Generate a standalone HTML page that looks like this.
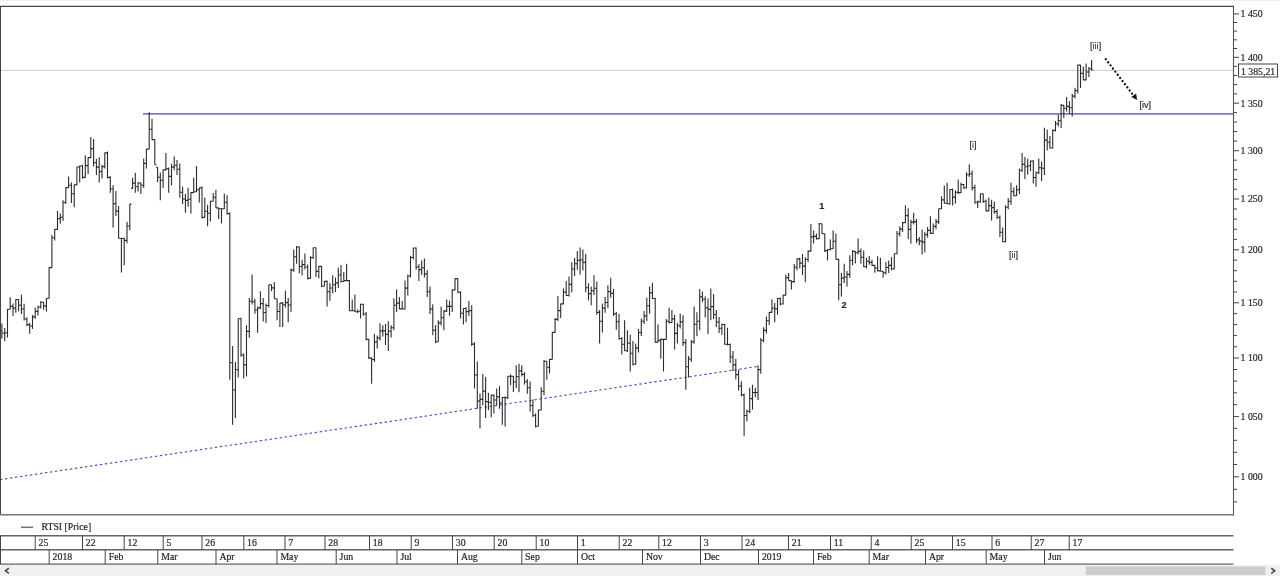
<!DOCTYPE html>
<html><head><meta charset="utf-8"><title>RTSI</title>
<style>
html,body{margin:0;padding:0;background:#fff;}
body{width:1280px;height:576px;overflow:hidden;position:relative;font-family:"Liberation Serif",serif;}
svg{position:absolute;left:0;top:0;will-change:transform;opacity:0.999;}
text{font-family:"Liberation Serif",serif;font-size:11px;fill:#262626;stroke:#262626;stroke-width:0.22px;}
.ss text{font-family:"Liberation Sans",sans-serif;font-size:9.1px;fill:#2c2c2c;stroke:#2c2c2c;stroke-width:0.2px;}
</style></head><body>
<svg width="1280" height="576" viewBox="0 0 1280 576">
<rect x="0" y="0" width="1280" height="1.2" fill="#f0f0f0"/>
<rect x="0" y="565.3" width="1280" height="10.7" fill="#f0f0f0"/>
<rect x="1085.8" y="566.4" width="179.6" height="8.4" fill="#cdcdcd"/>
<path d="M8.9 568.2l-3.4 2.6 3.4 2.6" fill="none" stroke="#4a4a4a" stroke-width="1.6"/>
<path d="M1271.3 568.2l3.4 2.6-3.4 2.6" fill="none" stroke="#4a4a4a" stroke-width="1.6"/>
<!-- reference lines -->
<path d="M1 70.4H1233" stroke="#cbcbcb" stroke-width="1" fill="none"/>
<path d="M143 113.9H1233" stroke="#7a7acd" stroke-width="1.75" fill="none"/>
<path d="M0 479.6L759 366.3" stroke="#4c4cbf" stroke-width="1.15" stroke-dasharray="2.4 2.65" fill="none"/>
<!-- bars -->
<path d="M1.9 323.4V338.4M0.3 330.9h1.6M1.9 333.2h1.6M4.7 328.1V341.3M3.1 333.2h1.6M4.7 332.8h1.6M7.5 309.0V337.5M5.9 332.8h1.6M7.5 309.2h1.6M10.2 297.2V309.4M8.6 309.2h1.6M10.2 306.4h1.6M13.0 303.4V315.9M11.4 306.4h1.6M13.0 308.1h1.6M15.8 299.1V312.8M14.2 308.1h1.6M15.8 299.5h1.6M18.6 299.1V311.3M17.0 299.5h1.6M18.6 305.2h1.6M21.4 294.8V314.1M19.8 305.2h1.6M21.4 309.0h1.6M24.1 303.8V320.6M22.5 309.0h1.6M24.1 319.0h1.6M26.9 317.3V326.3M25.3 319.0h1.6M26.9 324.6h1.6M29.7 322.9V333.8M28.1 324.6h1.6M29.7 326.0h1.6M32.5 315.0V329.1M30.9 326.0h1.6M32.5 316.9h1.6M35.2 307.5V318.8M33.6 316.9h1.6M35.2 311.4h1.6M38.0 305.6V315.4M36.4 311.4h1.6M38.0 307.0h1.6M40.8 300.9V308.4M39.2 307.0h1.6M40.8 302.3h1.6M43.6 301.9V309.8M42.0 302.3h1.6M43.6 305.9h1.6M46.4 298.1V311.6M44.8 305.9h1.6M46.4 298.3h1.6M49.1 267.3V298.5M47.5 298.3h1.6M49.1 267.6h1.6M51.9 235.0V267.8M50.3 267.6h1.6M51.9 237.8h1.6M54.7 229.0V240.6M53.1 237.8h1.6M54.7 229.4h1.6M57.5 211.0V229.8M55.9 229.4h1.6M57.5 218.6h1.6M60.3 213.4V223.8M58.7 218.6h1.6M60.3 217.2h1.6M63.0 200.3V220.9M61.4 217.2h1.6M63.0 202.2h1.6M65.8 187.2V204.1M64.2 202.2h1.6M65.8 187.6h1.6M68.6 176.5V188.1M67.0 187.6h1.6M68.6 185.3h1.6M71.4 182.5V202.9M69.8 185.3h1.6M71.4 193.7h1.6M74.2 184.4V207.3M72.6 193.7h1.6M74.2 184.9h1.6M76.9 166.6V185.3M75.3 184.9h1.6M76.9 167.0h1.6M79.7 165.6V182.5M78.1 167.0h1.6M79.7 166.0h1.6M82.5 164.7V178.8M80.9 166.0h1.6M82.5 177.4h1.6M85.3 155.3V177.8M83.7 177.4h1.6M85.3 165.6h1.6M88.1 157.2V174.1M86.5 165.6h1.6M88.1 157.6h1.6M90.8 137.1V158.1M89.2 157.6h1.6M90.8 148.6h1.6M93.6 139.0V166.6M92.0 148.6h1.6M93.6 162.8h1.6M96.4 159.1V175.0M94.8 162.8h1.6M96.4 167.1h1.6M99.2 157.2V182.5M97.6 167.1h1.6M99.2 171.6h1.6M102.0 164.7V178.6M100.4 171.6h1.6M102.0 166.6h1.6M104.8 152.5V168.4M103.2 166.6h1.6M104.8 152.9h1.6M107.5 151.6V178.6M105.9 152.9h1.6M107.5 177.4h1.6M110.3 176.3V192.7M108.7 177.4h1.6M110.3 189.0h1.6M113.1 185.3V227.6M111.5 189.0h1.6M113.1 203.6h1.6M115.9 191.0V216.1M114.3 203.6h1.6M115.9 211.1h1.6M118.6 206.0V238.6M117.0 211.1h1.6M118.6 238.3h1.6M121.4 238.1V272.6M119.8 238.3h1.6M121.4 238.5h1.6M124.2 237.5V265.3M122.6 238.5h1.6M124.2 240.4h1.6M127.0 221.7V243.3M125.4 240.4h1.6M127.0 226.0h1.6M129.8 204.1V230.3M128.2 226.0h1.6M129.8 204.1h1.6M132.6 177.8V188.4M131.0 188.4h1.6M132.6 183.1h1.6M135.3 172.8V192.8M133.7 183.1h1.6M135.3 186.7h1.6M138.1 181.9V191.4M136.5 186.7h1.6M138.1 183.0h1.6M140.9 182.6V193.9M139.3 183.0h1.6M140.9 185.3h1.6M143.7 158.5V188.0M142.1 185.3h1.6M143.7 163.4h1.6M146.4 149.1V168.4M144.8 163.4h1.6M146.4 149.1h1.6M149.2 112.2V149.1M147.6 149.1h1.6M149.2 129.3h1.6M152.0 118.8V139.8M150.4 129.3h1.6M152.0 139.6h1.6M154.8 139.4V164.7M153.2 139.6h1.6M154.8 164.7h1.6M157.6 167.3V182.2M156.0 167.3h1.6M157.6 177.3h1.6M160.3 172.5V200.3M158.8 177.3h1.6M160.3 180.2h1.6M163.1 169.4V188.0M161.5 180.2h1.6M163.1 169.9h1.6M165.9 152.9V170.3M164.3 169.9h1.6M165.9 168.9h1.6M168.7 167.5V192.8M167.1 168.9h1.6M168.7 176.4h1.6M171.5 163.8V185.3M169.9 176.4h1.6M171.5 167.1h1.6M174.2 156.3V170.3M172.7 167.1h1.6M174.2 165.2h1.6M177.0 160.0V175.1M175.4 165.2h1.6M177.0 169.2h1.6M179.8 163.4V197.8M178.2 169.2h1.6M179.8 192.3h1.6M182.6 186.8V203.9M181.0 192.3h1.6M182.6 199.0h1.6M185.4 194.1V212.8M183.8 199.0h1.6M185.4 200.4h1.6M188.1 187.8V206.7M186.5 200.4h1.6M188.1 199.3h1.6M190.9 192.0V213.5M189.3 199.3h1.6M190.9 192.6h1.6M193.7 177.8V193.1M192.1 192.6h1.6M193.7 191.8h1.6M196.5 166.0V192.2M194.9 191.8h1.6M196.5 189.8h1.6M199.3 187.5V202.5M197.7 189.8h1.6M199.3 187.9h1.6M202.0 186.4V218.4M200.4 187.9h1.6M202.0 217.4h1.6M204.8 197.6V217.8M203.2 217.4h1.6M204.8 211.3h1.6M207.6 204.8V226.3M206.0 211.3h1.6M207.6 213.2h1.6M210.4 201.1V221.6M208.8 213.2h1.6M210.4 201.3h1.6M213.2 192.9V201.5M211.6 201.3h1.6M213.2 197.2h1.6M215.9 189.7V208.1M214.3 197.2h1.6M215.9 207.9h1.6M218.7 207.7V219.1M217.1 207.9h1.6M218.7 208.8h1.6M221.5 208.4V223.4M219.9 208.8h1.6M221.5 208.7h1.6M224.3 193.6V209.0M222.7 208.7h1.6M224.3 202.2h1.6M227.1 195.3V214.6M225.5 202.2h1.6M227.1 213.6h1.6M229.8 212.6V379.7M228.2 213.6h1.6M229.8 362.8h1.6M232.6 345.9V424.7M231.0 362.8h1.6M232.6 390.0h1.6M235.4 361.9V418.1M233.8 390.0h1.6M235.4 369.7h1.6M238.2 318.4V377.5M236.6 369.7h1.6M238.2 318.8h1.6M241.0 317.7V356.7M239.4 318.8h1.6M241.0 355.0h1.6M243.7 353.4V378.6M242.1 355.0h1.6M243.7 364.9h1.6M246.5 325.2V376.5M244.9 364.9h1.6M246.5 331.4h1.6M249.3 297.9V337.7M247.7 331.4h1.6M249.3 301.2h1.6M252.1 274.5V304.6M250.5 301.2h1.6M252.1 301.7h1.6M254.9 298.8V313.7M253.3 301.7h1.6M254.9 310.0h1.6M257.6 306.4V332.7M256.0 310.0h1.6M257.6 307.9h1.6M260.4 291.3V309.3M258.8 307.9h1.6M260.4 303.6h1.6M263.2 297.9V321.4M261.6 303.6h1.6M263.2 312.5h1.6M266.0 303.6V323.0M264.4 312.5h1.6M266.0 305.5h1.6M268.8 284.4V307.4M267.2 305.5h1.6M268.8 284.8h1.6M271.5 284.4V291.3M269.9 284.8h1.6M271.5 287.9h1.6M274.3 281.9V298.8M272.7 287.9h1.6M274.3 298.8h1.6M277.1 298.8V320.3M275.5 298.8h1.6M277.1 311.5h1.6M279.9 302.7V327.1M278.3 311.5h1.6M279.9 303.1h1.6M282.7 302.1V327.1M281.1 303.1h1.6M282.7 304.8h1.6M285.4 290.8V307.4M283.8 304.8h1.6M285.4 302.6h1.6M288.2 297.9V322.2M286.6 302.6h1.6M288.2 305.0h1.6M291.0 268.6V312.1M289.4 305.0h1.6M291.0 270.1h1.6M293.8 249.6V271.7M292.2 270.1h1.6M293.8 256.7h1.6M296.6 246.1V263.8M295.0 256.7h1.6M296.6 247.0h1.6M299.3 246.6V273.3M297.7 247.0h1.6M299.3 266.5h1.6M302.1 259.7V275.2M300.5 266.5h1.6M302.1 264.6h1.6M304.9 253.6V269.6M303.3 264.6h1.6M304.9 267.0h1.6M307.7 264.4V279.5M306.1 267.0h1.6M307.7 278.4h1.6M310.5 256.3V278.8M308.9 278.4h1.6M310.5 257.6h1.6M313.2 247.4V258.8M311.6 257.6h1.6M313.2 247.8h1.6M316.0 247.4V276.9M314.4 247.8h1.6M316.0 271.4h1.6M318.8 265.8V278.2M317.2 271.4h1.6M318.8 266.4h1.6M321.6 266.0V287.0M320.0 266.4h1.6M321.6 286.2h1.6M324.4 281.0V286.6M322.8 286.2h1.6M324.4 281.4h1.6M327.1 280.6V306.4M325.5 281.4h1.6M327.1 291.8h1.6M329.9 282.9V300.7M328.3 291.8h1.6M329.9 288.0h1.6M332.7 275.2V293.2M331.1 288.0h1.6M332.7 284.8h1.6M335.5 277.6V291.9M333.9 284.8h1.6M335.5 282.9h1.6M338.3 267.5V288.1M336.7 282.9h1.6M338.3 275.0h1.6M341.0 265.1V282.5M339.4 275.0h1.6M341.0 281.5h1.6M343.8 272.0V281.9M342.2 281.5h1.6M343.8 280.6h1.6M346.6 263.8V281.0M345.0 280.6h1.6M346.6 280.6h1.6M349.4 280.1V311.1M347.8 280.6h1.6M349.4 310.7h1.6M352.2 299.4V311.1M350.6 310.7h1.6M352.2 310.7h1.6M354.9 294.5V312.1M353.3 310.7h1.6M354.9 311.7h1.6M357.7 309.5V313.0M356.1 311.7h1.6M357.7 311.2h1.6M360.5 303.8V318.4M358.9 311.2h1.6M360.5 304.2h1.6M363.3 303.8V315.8M361.7 304.2h1.6M363.3 314.0h1.6M366.1 312.1V340.2M364.5 314.0h1.6M366.1 339.4h1.6M368.8 338.7V359.1M367.2 339.4h1.6M368.8 358.1h1.6M371.6 357.2V383.7M370.0 358.1h1.6M371.6 359.5h1.6M374.4 333.7V361.9M372.8 359.5h1.6M374.4 341.9h1.6M377.2 335.4V348.4M375.6 341.9h1.6M377.2 337.9h1.6M380.0 323.3V340.5M378.4 337.9h1.6M380.0 330.9h1.6M382.8 325.2V336.5M381.1 330.9h1.6M382.8 330.9h1.6M385.5 323.9V345.0M383.9 330.9h1.6M385.5 334.4h1.6M388.3 321.2V351.0M386.7 334.4h1.6M388.3 331.3h1.6M391.1 325.2V337.4M389.5 331.3h1.6M391.1 327.8h1.6M393.9 298.3V330.3M392.3 327.8h1.6M393.9 305.2h1.6M396.6 289.4V312.1M395.0 305.2h1.6M396.6 303.1h1.6M399.4 296.9V309.3M397.8 303.1h1.6M399.4 308.9h1.6M402.2 301.1V309.4M400.6 308.9h1.6M402.2 309.0h1.6M405.0 280.6V309.6M403.4 309.0h1.6M405.0 288.1h1.6M407.8 274.4V295.6M406.2 288.1h1.6M407.8 276.0h1.6M410.5 255.7V277.6M408.9 276.0h1.6M410.5 257.5h1.6M413.3 247.6V259.4M411.7 257.5h1.6M413.3 248.0h1.6M416.1 247.6V269.8M414.5 248.0h1.6M416.1 267.0h1.6M418.9 264.1V281.0M417.3 267.0h1.6M418.9 269.6h1.6M421.7 260.4V275.0M420.1 269.6h1.6M421.7 267.7h1.6M424.4 258.5V277.6M422.8 267.7h1.6M424.4 273.9h1.6M427.2 270.1V296.9M425.6 273.9h1.6M427.2 291.8h1.6M430.0 286.6V313.9M428.4 291.8h1.6M430.0 309.1h1.6M432.8 304.3V335.2M431.2 309.1h1.6M432.8 330.2h1.6M435.6 325.2V343.3M434.0 330.2h1.6M435.6 341.7h1.6M438.3 320.3V342.1M436.7 341.7h1.6M438.3 322.9h1.6M441.1 306.8V325.4M439.5 322.9h1.6M441.1 317.8h1.6M443.9 310.1V330.3M442.3 317.8h1.6M443.9 311.1h1.6M446.7 299.4V312.0M445.1 311.1h1.6M446.7 306.4h1.6M449.5 300.8V315.8M447.9 306.4h1.6M449.5 306.4h1.6M452.2 289.4V312.0M450.6 306.4h1.6M452.2 289.9h1.6M455.0 278.2V290.3M453.4 289.9h1.6M455.0 278.6h1.6M457.8 278.2V293.3M456.2 278.6h1.6M457.8 292.3h1.6M460.6 291.3V318.4M459.0 292.3h1.6M460.6 313.2h1.6M463.4 308.1V324.6M461.8 313.2h1.6M463.4 308.5h1.6M466.1 307.2V322.2M464.5 308.5h1.6M466.1 311.6h1.6M468.9 301.0V316.0M467.3 311.6h1.6M468.9 310.6h1.6M471.7 305.3V346.0M470.1 310.6h1.6M471.7 344.1h1.6M474.5 342.2V388.5M472.9 344.1h1.6M474.5 375.0h1.6M477.3 361.5V408.8M475.7 375.0h1.6M477.3 401.1h1.6M480.0 393.4V428.4M478.4 401.1h1.6M480.0 399.4h1.6M482.8 374.1V405.4M481.2 399.4h1.6M482.8 391.1h1.6M485.6 376.9V418.1M484.0 391.1h1.6M485.6 401.6h1.6M488.4 392.8V410.3M486.8 401.6h1.6M488.4 402.5h1.6M491.2 394.7V417.2M489.6 402.5h1.6M491.2 395.1h1.6M493.9 394.7V413.4M492.3 395.1h1.6M493.9 400.0h1.6M496.7 388.5V405.4M495.1 400.0h1.6M496.7 396.9h1.6M499.5 386.3V408.8M497.9 396.9h1.6M499.5 403.0h1.6M502.3 397.1V424.7M500.7 403.0h1.6M502.3 397.5h1.6M505.1 396.6V426.6M503.5 397.5h1.6M505.1 397.8h1.6M507.8 375.9V399.0M506.2 397.8h1.6M507.8 376.3h1.6M510.6 374.6V385.3M509.0 376.3h1.6M510.6 376.3h1.6M513.4 375.9V391.9M511.8 376.3h1.6M513.4 382.0h1.6M516.2 365.3V388.1M514.6 382.0h1.6M516.2 376.7h1.6M519.0 363.8V392.3M517.4 376.7h1.6M519.0 370.9h1.6M521.8 365.3V376.5M520.1 370.9h1.6M521.8 374.4h1.6M524.5 372.2V384.4M522.9 374.4h1.6M524.5 381.8h1.6M527.3 379.1V393.8M525.7 381.8h1.6M527.3 387.7h1.6M530.1 381.6V411.6M528.5 387.7h1.6M530.1 405.5h1.6M532.9 399.4V417.2M531.3 405.5h1.6M532.9 415.3h1.6M535.6 413.4V427.5M534.0 415.3h1.6M535.6 426.2h1.6M538.4 409.7V426.6M536.8 426.2h1.6M538.4 410.0h1.6M541.2 387.2V410.3M539.6 410.0h1.6M541.2 391.2h1.6M544.0 360.0V395.3M542.4 391.2h1.6M544.0 361.3h1.6M546.8 360.9V379.7M545.2 361.3h1.6M546.8 367.2h1.6M549.5 359.1V373.5M547.9 367.2h1.6M549.5 359.4h1.6M552.3 332.2V359.6M550.7 359.4h1.6M552.3 332.4h1.6M555.1 317.9V332.7M553.5 332.4h1.6M555.1 319.4h1.6M557.9 295.9V320.9M556.3 319.4h1.6M557.9 310.6h1.6M560.7 303.4V317.9M559.1 310.6h1.6M560.7 303.9h1.6M563.4 288.4V304.4M561.8 303.9h1.6M563.4 292.1h1.6M566.2 280.9V295.9M564.6 292.1h1.6M566.2 295.5h1.6M569.0 276.6V296.5M567.4 295.5h1.6M569.0 284.4h1.6M571.8 262.2V292.2M570.2 284.4h1.6M571.8 269.0h1.6M574.6 257.9V275.9M573.0 269.0h1.6M574.6 263.8h1.6M577.3 250.9V269.7M575.7 263.8h1.6M577.3 260.3h1.6M580.1 247.5V274.4M578.5 260.3h1.6M580.1 260.0h1.6M582.9 249.4V270.6M581.3 260.0h1.6M582.9 262.4h1.6M585.7 254.1V292.2M584.1 262.4h1.6M585.7 287.8h1.6M588.5 283.4V300.6M586.9 287.8h1.6M588.5 293.6h1.6M591.2 286.6V305.3M589.6 293.6h1.6M591.2 290.8h1.6M594.0 275.3V295.0M592.4 290.8h1.6M594.0 288.2h1.6M596.8 281.5V314.7M595.2 288.2h1.6M596.8 312.4h1.6M599.6 310.0V343.6M598.0 312.4h1.6M599.6 321.2h1.6M602.4 303.4V332.5M600.8 321.2h1.6M602.4 308.1h1.6M605.1 296.9V312.8M603.5 308.1h1.6M605.1 302.5h1.6M607.9 285.3V308.1M606.3 302.5h1.6M607.9 291.6h1.6M610.7 277.8V297.8M609.1 291.6h1.6M610.7 293.4h1.6M613.5 289.0V316.0M611.9 293.4h1.6M613.5 313.9h1.6M616.3 311.9V329.7M614.7 313.9h1.6M616.3 321.8h1.6M619.0 313.8V339.7M617.4 321.8h1.6M619.0 338.5h1.6M621.8 337.3V354.5M620.2 338.5h1.6M621.8 344.2h1.6M624.6 320.3V351.1M623.0 344.2h1.6M624.6 350.7h1.6M627.4 330.3V351.9M625.8 350.7h1.6M627.4 343.3h1.6M630.2 334.7V371.6M628.6 343.3h1.6M630.2 353.2h1.6M632.9 340.9V365.6M631.3 353.2h1.6M632.9 364.3h1.6M635.7 343.6V364.7M634.1 364.3h1.6M635.7 348.1h1.6M638.5 329.1V352.6M636.9 348.1h1.6M638.5 332.5h1.6M641.3 318.4V335.9M639.7 332.5h1.6M641.3 321.2h1.6M644.1 310.9V324.1M642.5 321.2h1.6M644.1 315.9h1.6M646.8 297.8V320.9M645.2 315.9h1.6M646.8 305.8h1.6M649.6 286.6V313.8M648.0 305.8h1.6M649.6 292.9h1.6M652.4 282.8V299.1M650.8 292.9h1.6M652.4 298.5h1.6M655.2 297.8V342.8M653.6 298.5h1.6M655.2 342.1h1.6M658.0 324.6V342.5M656.4 342.1h1.6M658.0 340.4h1.6M660.8 338.4V358.7M659.1 340.4h1.6M660.8 339.4h1.6M663.5 339.0V371.4M661.9 339.4h1.6M663.5 339.4h1.6M666.3 319.0V339.7M664.7 339.4h1.6M666.3 321.3h1.6M669.1 307.8V323.6M667.5 321.3h1.6M669.1 322.5h1.6M671.9 310.0V322.9M670.3 322.5h1.6M671.9 318.9h1.6M674.6 315.0V349.4M673.0 318.9h1.6M674.6 333.4h1.6M677.4 323.1V343.6M675.8 333.4h1.6M677.4 325.8h1.6M680.2 313.4V328.4M678.6 325.8h1.6M680.2 321.9h1.6M683.0 315.3V346.1M681.4 321.9h1.6M683.0 342.6h1.6M685.8 339.1V389.7M684.2 342.6h1.6M685.8 366.7h1.6M688.5 355.9V377.5M686.9 366.7h1.6M688.5 359.0h1.6M691.3 340.0V362.1M689.7 359.0h1.6M691.3 341.9h1.6M694.1 306.6V343.8M692.5 341.9h1.6M694.1 324.3h1.6M696.9 312.3V336.3M695.3 324.3h1.6M696.9 321.3h1.6M699.7 289.0V330.3M698.1 321.3h1.6M699.7 296.9h1.6M702.4 291.6V302.1M700.8 296.9h1.6M702.4 299.3h1.6M705.2 296.5V317.5M703.6 299.3h1.6M705.2 307.9h1.6M708.0 298.4V334.0M706.4 307.9h1.6M708.0 309.4h1.6M710.8 288.4V320.3M709.2 309.4h1.6M710.8 306.6h1.6M713.6 294.1V319.0M712.0 306.6h1.6M713.6 314.5h1.6M716.3 310.0V326.9M714.7 314.5h1.6M716.3 322.0h1.6M719.1 317.1V332.9M717.5 322.0h1.6M719.1 328.2h1.6M721.9 323.5V334.8M720.3 328.2h1.6M721.9 324.5h1.6M724.7 324.1V344.7M723.1 324.5h1.6M724.7 344.3h1.6M727.5 327.8V345.4M725.9 344.3h1.6M727.5 344.5h1.6M730.2 343.6V362.9M728.6 344.5h1.6M730.2 357.0h1.6M733.0 351.1V370.9M731.4 357.0h1.6M733.0 364.9h1.6M735.8 358.8V379.4M734.2 364.9h1.6M735.8 374.6h1.6M738.6 369.8V390.6M737.0 374.6h1.6M738.6 386.0h1.6M741.4 381.3V396.3M739.8 386.0h1.6M741.4 394.9h1.6M744.1 393.4V436.0M742.5 394.9h1.6M744.1 415.5h1.6M746.9 409.4V421.6M745.3 415.5h1.6M746.9 411.2h1.6M749.7 387.8V413.1M748.1 411.2h1.6M749.7 398.6h1.6M752.5 384.8V409.4M750.9 398.6h1.6M752.5 392.5h1.6M755.3 387.8V397.2M753.7 392.5h1.6M755.3 392.5h1.6M758.0 365.3V400.0M756.4 392.5h1.6M758.0 369.6h1.6M760.8 338.1V373.8M759.2 369.6h1.6M760.8 340.2h1.6M763.6 327.3V342.3M762.0 340.2h1.6M763.6 330.4h1.6M766.4 316.6V333.4M764.8 330.4h1.6M766.4 320.8h1.6M769.2 311.9V325.0M767.6 320.8h1.6M769.2 312.4h1.6M771.9 299.3V312.8M770.3 312.4h1.6M771.9 308.0h1.6M774.7 303.1V322.2M773.1 308.0h1.6M774.7 308.9h1.6M777.5 298.1V314.7M775.9 308.9h1.6M777.5 298.5h1.6M780.3 297.4V305.4M778.7 298.5h1.6M780.3 304.0h1.6M783.1 294.7V304.4M781.5 304.0h1.6M783.1 295.1h1.6M785.8 274.6V295.5M784.2 295.1h1.6M785.8 277.6h1.6M788.6 273.1V280.6M787.0 277.6h1.6M788.6 280.6h1.6M791.4 280.6V289.5M789.8 280.6h1.6M791.4 281.6h1.6M794.2 264.1V282.7M792.6 281.6h1.6M794.2 267.2h1.6M797.0 258.5V270.3M795.4 267.2h1.6M797.0 258.9h1.6M799.8 257.8V268.4M798.1 258.9h1.6M799.8 263.1h1.6M802.5 254.0V275.0M800.9 263.1h1.6M802.5 266.1h1.6M805.3 257.2V282.2M803.7 266.1h1.6M805.3 259.5h1.6M808.1 250.6V261.9M806.5 259.5h1.6M808.1 251.1h1.6M810.9 224.0V251.6M809.3 251.1h1.6M810.9 236.9h1.6M813.6 230.4V243.5M812.0 236.9h1.6M813.6 236.4h1.6M816.4 233.4V239.4M814.8 236.4h1.6M816.4 238.6h1.6M819.2 222.9V239.0M817.6 238.6h1.6M819.2 223.8h1.6M822.0 223.4V234.1M820.4 223.8h1.6M822.0 233.8h1.6M824.8 233.4V252.1M823.2 233.8h1.6M824.8 250.6h1.6M827.5 249.1V260.4M825.9 250.6h1.6M827.5 249.7h1.6M830.3 239.4V250.3M828.7 249.7h1.6M830.3 248.7h1.6M833.1 230.4V249.1M831.5 248.7h1.6M833.1 241.2h1.6M835.9 233.4V259.6M834.3 241.2h1.6M835.9 259.4h1.6M838.7 259.1V300.3M837.1 259.4h1.6M838.7 284.8h1.6M841.4 273.1V296.5M839.8 284.8h1.6M841.4 278.1h1.6M844.2 263.8V283.1M842.6 278.1h1.6M844.2 277.0h1.6M847.0 270.9V286.4M845.4 277.0h1.6M847.0 274.4h1.6M849.8 255.3V277.8M848.2 274.4h1.6M849.8 260.3h1.6M852.6 250.3V265.3M851.0 260.3h1.6M852.6 251.4h1.6M855.3 251.0V263.4M853.7 251.4h1.6M855.3 252.7h1.6M858.1 238.4V254.4M856.5 252.7h1.6M858.1 251.4h1.6M860.9 248.4V263.8M859.3 251.4h1.6M860.9 257.2h1.6M863.7 250.6V267.1M862.1 257.2h1.6M863.7 266.7h1.6M866.5 257.8V268.4M864.9 266.7h1.6M866.5 261.2h1.6M869.2 255.9V264.7M867.6 261.2h1.6M869.2 262.4h1.6M872.0 260.0V266.0M870.4 262.4h1.6M872.0 265.4h1.6M874.8 264.7V272.8M873.2 265.4h1.6M874.8 268.0h1.6M877.6 256.3V271.3M876.0 268.0h1.6M877.6 270.9h1.6M880.4 257.8V271.6M878.8 270.9h1.6M880.4 271.2h1.6M883.1 270.9V277.8M881.5 271.2h1.6M883.1 272.8h1.6M885.9 261.9V274.6M884.3 272.8h1.6M885.9 267.5h1.6M888.7 260.4V273.1M887.1 267.5h1.6M888.7 265.4h1.6M891.5 257.2V270.3M889.9 265.4h1.6M891.5 269.0h1.6M894.3 253.4V269.4M892.7 269.0h1.6M894.3 253.7h1.6M897.0 230.9V254.0M895.4 253.7h1.6M897.0 233.8h1.6M899.8 226.3V236.6M898.2 233.8h1.6M899.8 229.1h1.6M902.6 222.1V231.9M901.0 229.1h1.6M902.6 222.6h1.6M905.4 205.3V223.0M903.8 222.6h1.6M905.4 215.6h1.6M908.2 208.2V239.2M906.6 215.6h1.6M908.2 229.4h1.6M910.9 219.7V243.8M909.3 229.4h1.6M910.9 222.1h1.6M913.7 212.8V224.4M912.1 222.1h1.6M913.7 221.6h1.6M916.5 218.8V242.9M914.9 221.6h1.6M916.5 239.9h1.6M919.3 237.0V245.2M917.7 239.9h1.6M919.3 241.1h1.6M922.1 229.6V254.4M920.5 241.1h1.6M922.1 242.1h1.6M924.8 231.7V252.5M923.2 242.1h1.6M924.8 234.6h1.6M927.6 226.9V237.5M926.0 234.6h1.6M927.6 230.4h1.6M930.4 216.2V233.9M928.8 230.4h1.6M930.4 233.4h1.6M933.2 223.4V233.8M931.6 233.4h1.6M933.2 226.4h1.6M936.0 219.1V229.3M934.4 226.4h1.6M936.0 221.6h1.6M938.7 208.4V224.0M937.1 221.6h1.6M938.7 208.7h1.6M941.5 196.3V209.0M939.9 208.7h1.6M941.5 199.9h1.6M944.3 185.4V203.6M942.7 199.9h1.6M944.3 203.2h1.6M947.1 182.8V204.1M945.5 203.2h1.6M947.1 203.7h1.6M949.9 189.1V204.7M948.3 203.7h1.6M949.9 189.5h1.6M952.6 188.4V205.4M951.0 189.5h1.6M952.6 197.1h1.6M955.4 190.3V203.8M953.8 197.1h1.6M955.4 192.2h1.6M958.2 179.4V194.0M956.6 192.2h1.6M958.2 192.6h1.6M961.0 182.8V193.0M959.4 192.6h1.6M961.0 184.5h1.6M963.8 184.1V188.8M962.2 184.5h1.6M963.8 188.0h1.6M966.5 172.3V188.4M964.9 188.0h1.6M966.5 174.7h1.6M969.3 164.2V177.0M967.7 174.7h1.6M969.3 173.7h1.6M972.1 170.4V190.4M970.5 173.7h1.6M972.1 187.6h1.6M974.9 184.8V203.8M973.3 187.6h1.6M974.9 202.2h1.6M977.7 200.5V208.1M976.1 202.2h1.6M977.7 201.7h1.6M980.4 193.4V202.8M978.8 201.7h1.6M980.4 193.8h1.6M983.2 193.4V203.0M981.6 193.8h1.6M983.2 201.3h1.6M986.0 199.6V211.5M984.4 201.3h1.6M986.0 210.9h1.6M988.8 197.5V211.3M987.2 210.9h1.6M988.8 205.6h1.6M991.6 199.8V220.4M990.0 205.6h1.6M991.6 207.6h1.6M994.3 201.4V213.8M992.7 207.6h1.6M994.3 211.6h1.6M997.1 209.3V218.9M995.5 211.6h1.6M997.1 217.2h1.6M999.9 215.6V237.0M998.3 217.2h1.6M999.9 232.2h1.6M1002.7 227.5V242.2M1001.1 232.2h1.6M1002.7 241.8h1.6M1005.5 205.2V242.5M1003.9 241.8h1.6M1005.5 207.2h1.6M1008.2 197.9V209.2M1006.6 207.2h1.6M1008.2 201.3h1.6M1011.0 182.8V204.7M1009.4 201.3h1.6M1011.0 191.8h1.6M1013.8 187.3V196.3M1012.2 191.8h1.6M1013.8 195.7h1.6M1016.6 185.2V196.1M1015.0 195.7h1.6M1016.6 189.7h1.6M1019.4 168.5V194.2M1017.8 189.7h1.6M1019.4 170.2h1.6M1022.1 152.9V171.9M1020.5 170.2h1.6M1022.1 164.4h1.6M1024.9 156.9V179.0M1023.3 164.4h1.6M1024.9 166.8h1.6M1027.7 158.8V174.7M1026.1 166.8h1.6M1027.7 165.8h1.6M1030.5 160.6V170.9M1028.9 165.8h1.6M1030.5 161.0h1.6M1033.3 160.3V183.6M1031.7 161.0h1.6M1033.3 177.5h1.6M1036.0 171.4V186.7M1034.5 177.5h1.6M1036.0 172.7h1.6M1038.8 158.6V173.9M1037.2 172.7h1.6M1038.8 167.8h1.6M1041.6 161.6V180.9M1040.0 167.8h1.6M1041.6 168.3h1.6M1044.4 127.7V175.0M1042.8 168.3h1.6M1044.4 140.1h1.6M1047.2 129.5V150.6M1045.6 140.1h1.6M1047.2 142.2h1.6M1049.9 135.9V148.4M1048.3 142.2h1.6M1049.9 148.0h1.6M1052.7 129.5V148.4M1051.1 148.0h1.6M1052.7 130.4h1.6M1055.5 121.1V131.4M1053.9 130.4h1.6M1055.5 123.8h1.6M1058.3 114.8V126.5M1056.7 123.8h1.6M1058.3 120.7h1.6M1061.1 104.1V127.9M1059.5 120.7h1.6M1061.1 105.4h1.6M1063.8 105.0V118.1M1062.2 105.4h1.6M1063.8 108.3h1.6M1066.6 97.1V111.6M1065.0 108.3h1.6M1066.6 106.4h1.6M1069.4 101.3V114.3M1067.8 106.4h1.6M1069.4 107.8h1.6M1072.2 93.8V116.4M1070.6 107.8h1.6M1072.2 96.1h1.6M1075.0 87.8V98.4M1073.4 96.1h1.6M1075.0 90.6h1.6M1077.8 64.7V93.4M1076.2 90.6h1.6M1077.8 65.1h1.6M1080.5 64.7V88.1M1078.9 65.1h1.6M1080.5 73.4h1.6M1083.3 66.6V80.3M1081.7 73.4h1.6M1083.3 79.9h1.6M1086.1 63.4V80.6M1084.5 79.9h1.6M1086.1 72.0h1.6M1088.9 67.1V76.9M1087.3 72.0h1.6M1088.9 68.7h1.6M1091.6 60.0V70.3M1090.0 68.7h1.6M1091.6 70.0h1.6" stroke="#2b2b2b" stroke-width="1.1" fill="none"/>
<!-- frame -->
<path d="M0.5 6V515" stroke="#444" stroke-width="1.05" fill="none"/>
<path d="M0 6.4H1234" stroke="#444" stroke-width="1.1" fill="none"/>
<path d="M1233.5 6V515.6" stroke="#555" stroke-width="1.1" fill="none"/>
<path d="M0 514.8H1234" stroke="#777" stroke-width="1.6" fill="none"/>
<path d="M1233.5 501.9h3.5M1233.5 489.3h3.5M1233.5 476.8h5.5M1233.5 464.5h3.5M1233.5 452.3h3.5M1233.5 440.3h3.5M1233.5 428.4h3.5M1233.5 416.6h5.5M1233.5 404.7h3.5M1233.5 392.8h3.5M1233.5 381.1h3.5M1233.5 369.5h3.5M1233.5 358.0h5.5M1233.5 346.8h3.5M1233.5 335.6h3.5M1233.5 324.6h3.5M1233.5 313.6h3.5M1233.5 302.8h5.5M1233.5 292.0h3.5M1233.5 281.3h3.5M1233.5 270.7h3.5M1233.5 260.2h3.5M1233.5 249.8h5.5M1233.5 239.4h3.5M1233.5 229.2h3.5M1233.5 219.1h3.5M1233.5 209.0h3.5M1233.5 199.0h5.5M1233.5 189.2h3.5M1233.5 179.4h3.5M1233.5 169.8h3.5M1233.5 160.2h3.5M1233.5 150.7h5.5M1233.5 141.1h3.5M1233.5 131.5h3.5M1233.5 122.0h3.5M1233.5 112.6h3.5M1233.5 103.2h5.5M1233.5 93.9h3.5M1233.5 84.6h3.5M1233.5 75.5h3.5M1233.5 66.3h3.5M1233.5 57.3h5.5M1233.5 48.5h3.5M1233.5 39.8h3.5M1233.5 31.1h3.5M1233.5 22.5h3.5M1233.5 13.9h5.5" stroke="#444" stroke-width="1" fill="none"/>
<text transform="translate(1240.6 480.1) scale(.89 1)">1 000</text><text transform="translate(1240.6 420.0) scale(.89 1)">1 050</text><text transform="translate(1240.6 361.4) scale(.89 1)">1 100</text><text transform="translate(1240.6 306.1) scale(.89 1)">1 150</text><text transform="translate(1240.6 253.2) scale(.89 1)">1 200</text><text transform="translate(1240.6 202.4) scale(.89 1)">1 250</text><text transform="translate(1240.6 154.1) scale(.89 1)">1 300</text><text transform="translate(1240.6 106.6) scale(.89 1)">1 350</text><text transform="translate(1240.6 60.7) scale(.89 1)">1 400</text><text transform="translate(1240.6 17.3) scale(.89 1)">1 450</text>
<rect x="1238.5" y="64" width="39" height="13" fill="#fff" stroke="#444" stroke-width="1"/>
<text transform="translate(1241.0 74.5) scale(.89 1)">1 385,21</text>
<!-- legend -->
<path d="M21 527.2H33" stroke="#333" stroke-width="1" fill="none"/>
<text transform="translate(41.5 530.2) scale(.89 1)">RTSI [Price]</text>
<!-- date rows -->
<path d="M0 535.7H1233.5M0 549.8H1233.5M0 564.1H1233.3" stroke="#636363" stroke-width="1.4" fill="none"/>
<path d="M35.2 535.7V549.8M82.5 535.7V549.8M124.2 535.7V549.8M163.2 535.7V549.8M202.0 535.7V549.8M243.8 535.7V549.8M285.0 535.7V549.8M325.0 535.7V549.8M369.5 535.7V549.8M411.2 535.7V549.8M452.5 535.7V549.8M494.2 535.7V549.8M536.2 535.7V549.8M577.5 535.7V549.8M619.2 535.7V549.8M658.8 535.7V549.8M700.5 535.7V549.8M742.0 535.7V549.8M788.5 535.7V549.8M830.5 535.7V549.8M871.2 535.7V549.8M911.2 535.7V549.8M952.5 535.7V549.8M992.0 535.7V549.8M1031.2 535.7V549.8M1069.2 535.7V549.8M49.2 549.8V564.1M105.2 549.8V564.1M157.8 549.8V564.1M216.0 549.8V564.1M277.0 549.8V564.1M336.2 549.8V564.1M397.0 549.8V564.1M457.5 549.8V564.1M521.8 549.8V564.1M577.5 549.8V564.1M642.5 549.8V564.1M700.5 549.8V564.1M758.5 549.8V564.1M813.5 549.8V564.1M869.2 549.8V564.1M925.5 549.8V564.1M986.2 549.8V564.1M1044.5 549.8V564.1M0.5 535.7V564.1" stroke="#444" stroke-width="1" fill="none"/>
<text transform="translate(38.5 546.1) scale(.89 1)">25</text><text transform="translate(85.8 546.1) scale(.89 1)">22</text><text transform="translate(127.5 546.1) scale(.89 1)">12</text><text transform="translate(166.6 546.1) scale(.89 1)">5</text><text transform="translate(205.3 546.1) scale(.89 1)">26</text><text transform="translate(247.1 546.1) scale(.89 1)">16</text><text transform="translate(288.3 546.1) scale(.89 1)">7</text><text transform="translate(328.3 546.1) scale(.89 1)">28</text><text transform="translate(372.8 546.1) scale(.89 1)">18</text><text transform="translate(414.6 546.1) scale(.89 1)">9</text><text transform="translate(455.8 546.1) scale(.89 1)">30</text><text transform="translate(497.6 546.1) scale(.89 1)">20</text><text transform="translate(539.5 546.1) scale(.89 1)">10</text><text transform="translate(580.8 546.1) scale(.89 1)">1</text><text transform="translate(622.5 546.1) scale(.89 1)">22</text><text transform="translate(662.0 546.1) scale(.89 1)">12</text><text transform="translate(703.8 546.1) scale(.89 1)">3</text><text transform="translate(745.3 546.1) scale(.89 1)">24</text><text transform="translate(791.8 546.1) scale(.89 1)">21</text><text transform="translate(833.8 546.1) scale(.89 1)">11</text><text transform="translate(874.5 546.1) scale(.89 1)">4</text><text transform="translate(914.5 546.1) scale(.89 1)">25</text><text transform="translate(955.8 546.1) scale(.89 1)">15</text><text transform="translate(995.3 546.1) scale(.89 1)">6</text><text transform="translate(1034.5 546.1) scale(.89 1)">27</text><text transform="translate(1072.5 546.1) scale(.89 1)">17</text><text transform="translate(52.6 560.4) scale(.89 1)">2018</text><text transform="translate(108.7 560.4) scale(.89 1)">Feb</text><text transform="translate(161.2 560.4) scale(.89 1)">Mar</text><text transform="translate(219.4 560.4) scale(.89 1)">Apr</text><text transform="translate(280.4 560.4) scale(.89 1)">May</text><text transform="translate(339.6 560.4) scale(.89 1)">Jun</text><text transform="translate(400.4 560.4) scale(.89 1)">Jul</text><text transform="translate(460.9 560.4) scale(.89 1)">Aug</text><text transform="translate(525.1 560.4) scale(.89 1)">Sep</text><text transform="translate(580.9 560.4) scale(.89 1)">Oct</text><text transform="translate(645.9 560.4) scale(.89 1)">Nov</text><text transform="translate(703.9 560.4) scale(.89 1)">Dec</text><text transform="translate(761.9 560.4) scale(.89 1)">2019</text><text transform="translate(816.9 560.4) scale(.89 1)">Feb</text><text transform="translate(872.6 560.4) scale(.89 1)">Mar</text><text transform="translate(928.9 560.4) scale(.89 1)">Apr</text><text transform="translate(989.6 560.4) scale(.89 1)">May</text><text transform="translate(1047.9 560.4) scale(.89 1)">Jun</text>
<!-- wave labels -->
<g class="ss">
<text x="821.7" y="208.8" text-anchor="middle" style="font-weight:bold">1</text>
<text x="844.1" y="308" text-anchor="middle" style="font-weight:bold">2</text>
<text x="973.1" y="148.2" text-anchor="middle">[<tspan fill="#6a5890">i</tspan>]</text>
<text x="1013.6" y="258.1" text-anchor="middle">[<tspan fill="#55506a">ii</tspan>]</text>
<text x="1095.6" y="49.2" text-anchor="middle">[<tspan fill="#5c5478">iii</tspan>]</text>
<text x="1145.2" y="107.6" text-anchor="middle">[iv]</text>
</g>
<!-- arrow -->
<path d="M1105.8 59.1L1132.3 93.9" stroke="#111" stroke-width="2.3" stroke-linecap="round" stroke-dasharray="0.01 3.93" fill="none"/>
<path d="M1137.1 100L1131.3 97.1L1136.1 93.5Z" fill="#111"/>
</svg>
</body></html>
